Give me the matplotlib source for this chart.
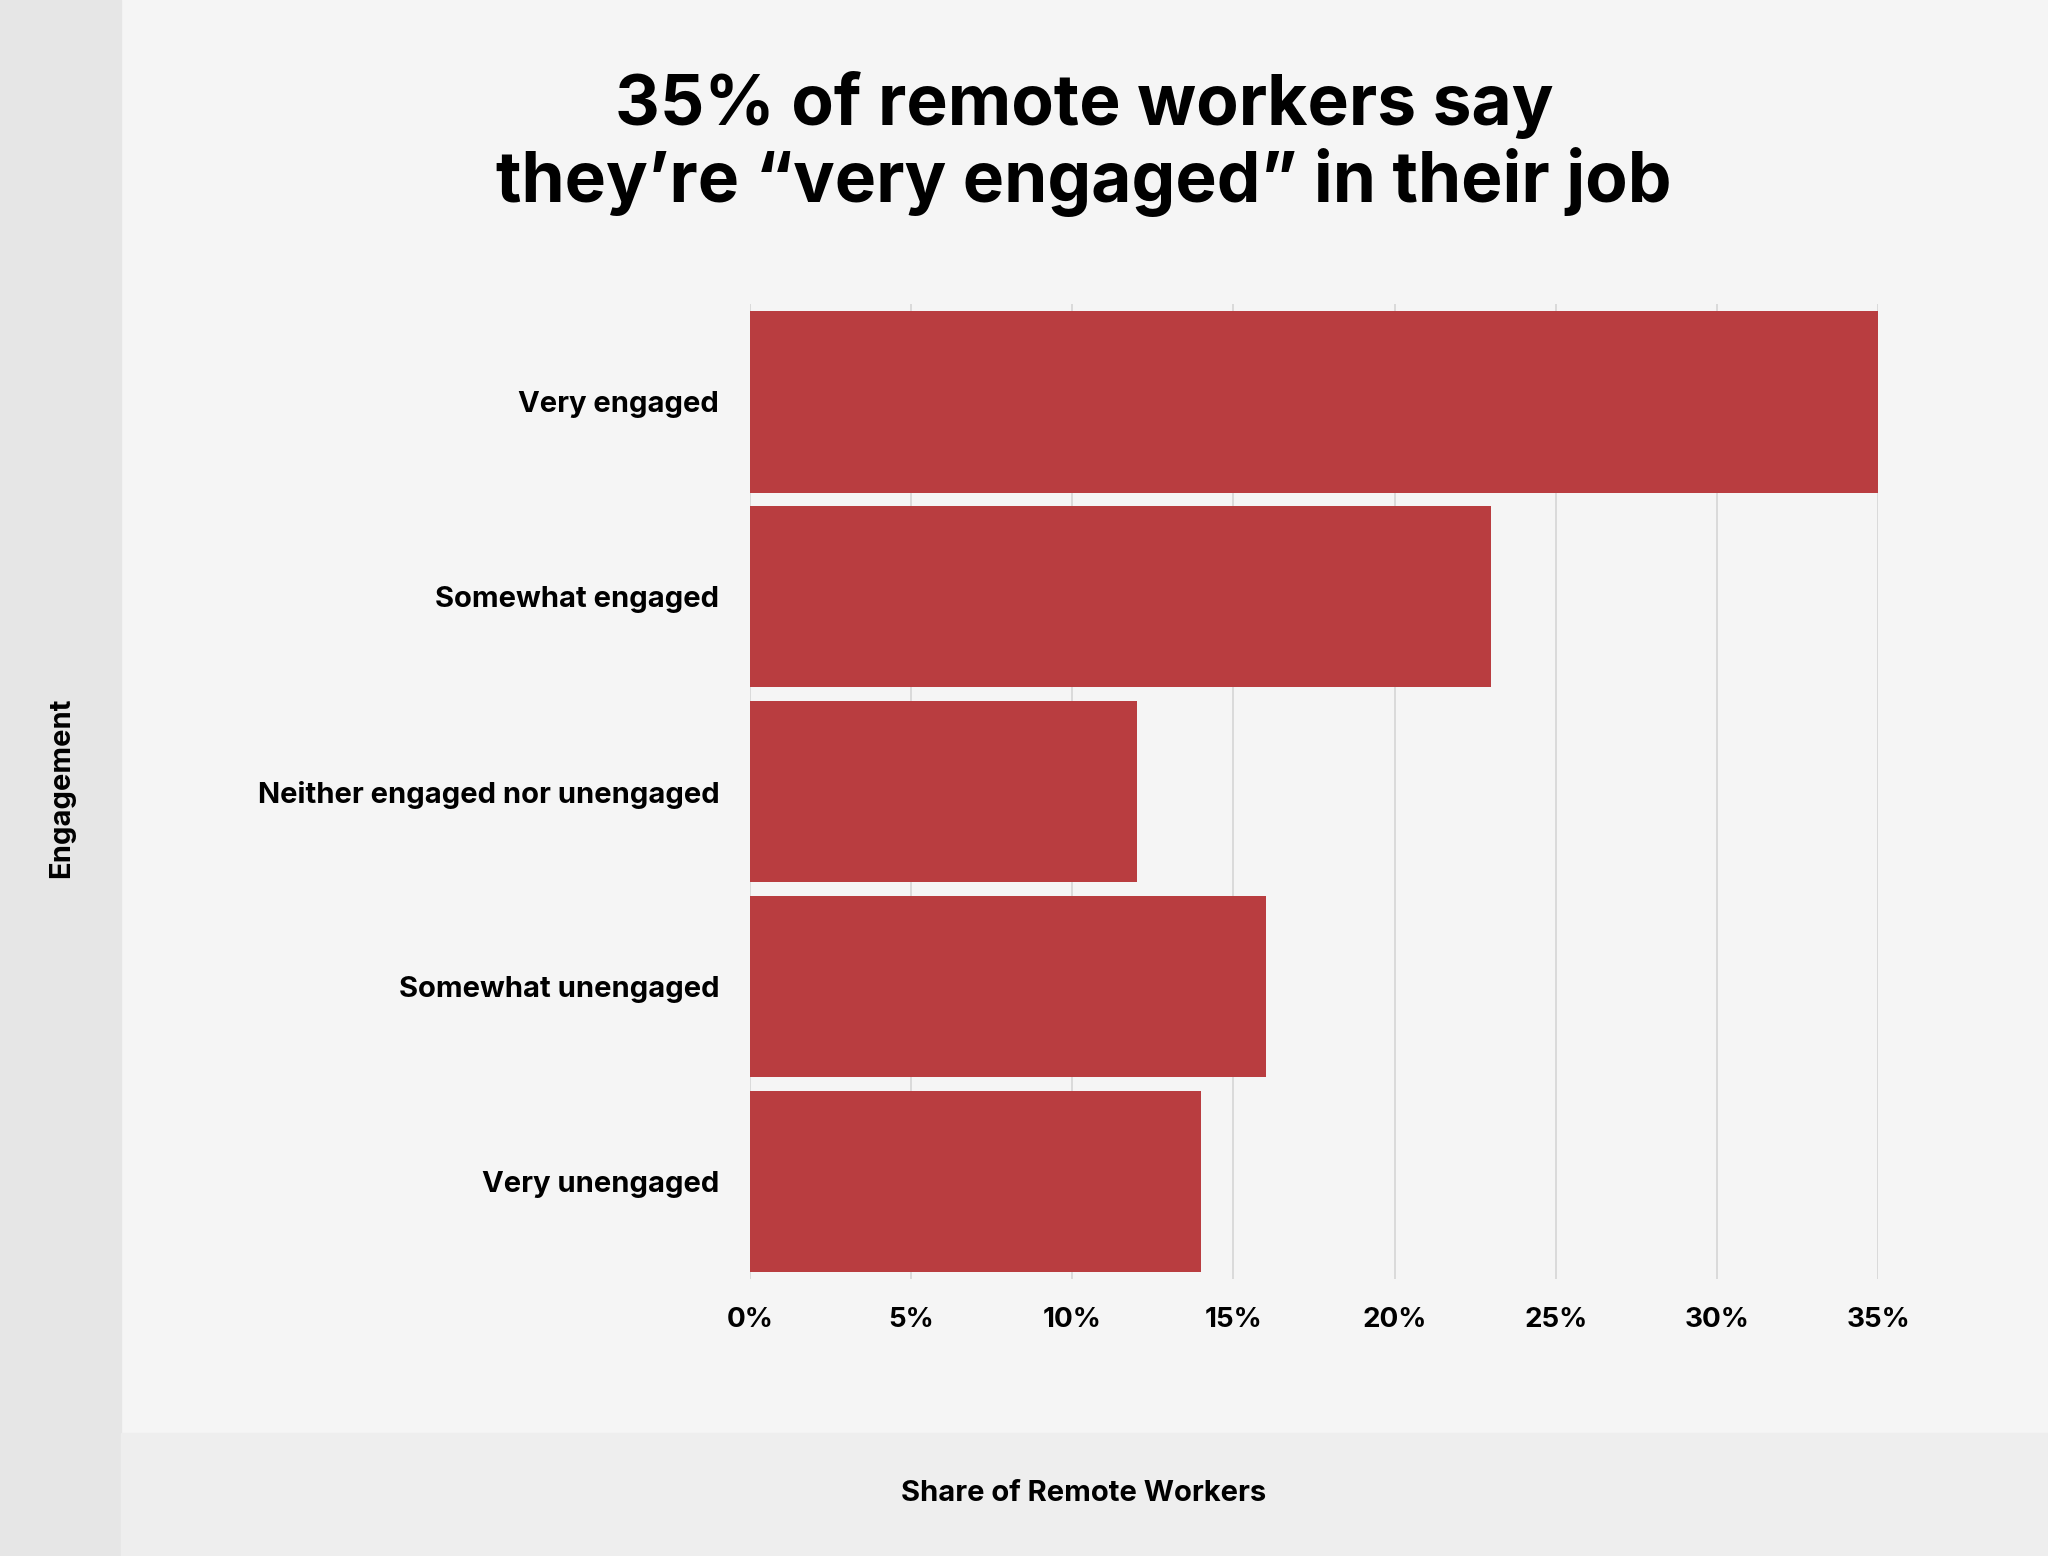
import matplotlib
matplotlib.use("Agg")
import matplotlib.pyplot as plt
from matplotlib.patches import Rectangle

categories = ["Very engaged", "Somewhat engaged", "Neither engaged nor unengaged",
              "Somewhat unengaged", "Very unengaged"]
values = [35, 23, 12, 16, 14]
ticks = [0, 5, 10, 15, 20, 25, 30, 35]
tick_labels = [f"{t}%" for t in ticks]

plt.rcParams['font.family'] = ['Inter', 'DejaVu Sans']
W, H = 1568, 1191
fig = plt.figure(figsize=(20.48, 15.56), dpi=100)
fig.patch.set_facecolor("#f5f5f5")
fig.patches.append(Rectangle((0, 0), 93/W, 1, transform=fig.transFigure, color="#e6e6e6", zorder=0))
fig.patches.append(Rectangle((93/W, 0), 1, 94/H, transform=fig.transFigure, color="#eeeeee", zorder=0))

ax = fig.add_axes([574/W, 1-979/H, (1438-574)/W, (979-233)/H])
ax.set_facecolor("none")
y = list(range(len(categories)))
ax.barh(y, values, height=0.93, color="#b93d40", zorder=3)
ax.set_ylim(len(categories)-0.5, -0.5)
ax.set_xlim(0, 35)
ax.set_xticks(ticks)
ax.set_xticklabels(tick_labels, fontsize=20, fontweight="bold")
ax.set_yticks(y)
ax.set_yticklabels(categories, fontsize=21, fontweight="bold")
ax.tick_params(length=0, pad=20)
ax.tick_params(axis='y', pad=22)
ax.grid(axis='x', color="#d5d5d5", linewidth=1.2, zorder=0)
for s in ax.spines.values():
    s.set_visible(False)

fig.text(830/W, 1-110/H, "35% of remote workers say\nthey’re “very engaged” in their job",
         ha="center", va="center", fontsize=50, fontweight="bold", linespacing=1.15)
fig.text(830/W, 1-1143/H, "Share of Remote Workers", ha="center", va="center",
         fontsize=21, fontweight="bold")
fig.text(47/W, 1-603/H, "Engagement", ha="center", va="center", rotation=90,
         fontsize=21, fontweight="bold")
fig.savefig("out.png", dpi=100, facecolor=fig.get_facecolor())
